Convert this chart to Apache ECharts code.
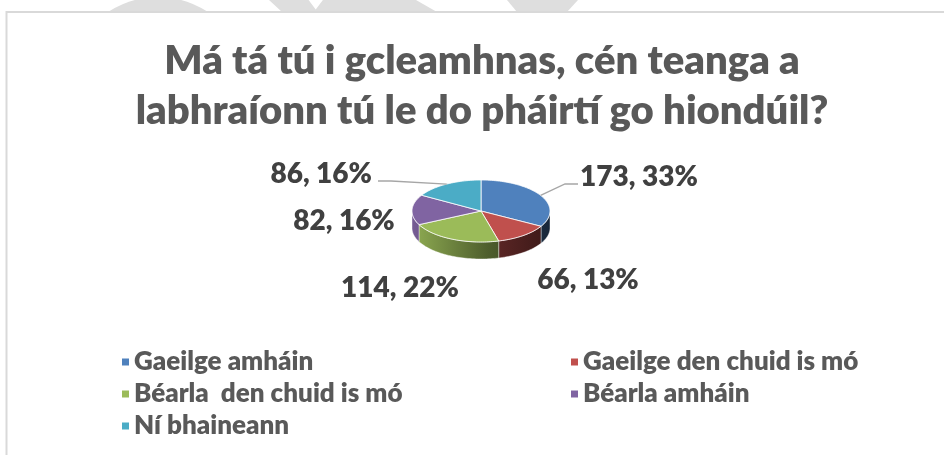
<!DOCTYPE html>
<html>
<head>
<meta charset="utf-8">
<title>Pie 3D</title>
<script src="https://cdn.jsdelivr.net/npm/echarts@6/dist/echarts.min.js"></script>
<style>
html, body { margin: 0; padding: 0; background: #fff; overflow: hidden; }
#main { width: 944px; height: 455px; }
</style>
</head>
<body>
<div id="main"></div>
<script>
// chart data
const titleText = "Má tá tú i gcleamhnas, cén teanga a\nlabhraíonn tú le do pháirtí go hiondúil?"
const categories = ["Gaeilge amháin", "Gaeilge den chuid is mó", "Béarla  den chuid is mó", "Béarla amháin", "Ní bhaineann"]
const values = [173, 66, 114, 82, 86]
const colors = ["#4f81bd", "#c0504d", "#9bbb59", "#8064a2", "#4bacc6"]

// pie layout (px): ellipse of the top face + height of the side wall
const pie = { cx: 481, cy: 211, rx: 69, ry: 31, depth: 17 }
// label anchor relative to pie centre: [dx, dy, align, leader line]
const labelLayout = [
  [99, -34, "left", true],
  [107, 69, "center", false],
  [-81, 77, "center", false],
  [-137, 10, "center", false],
  [-109, -37, "right", true],
]

// percentages that add up to 100 (largest remainder, like the pie series)
function percentList(arr) {
  const sum = arr.reduce((a, b) => a + b, 0)
  const raw = arr.map(v => (v / sum) * 100)
  const out = raw.map(Math.floor)
  const left = 100 - out.reduce((a, b) => a + b, 0)
  const order = raw.map((r, i) => i).sort((a, b) => (raw[b] - out[b]) - (raw[a] - out[a]))
  for (let k = 0; k < left; k++) out[order[k]]++
  return out
}

const total = values.reduce((a, b) => a + b, 0)
const percents = percentList(values)
// start angle of every slice, clockwise from 12 o'clock
const startAngles = []
let acc = 0
values.forEach(v => {
  startAngles.push(acc)
  acc += (v / total) * Math.PI * 2
})

// point on the ellipse, t from top clockwise
function ellipsePoint(t, dy) {
  return [pie.cx + pie.rx * Math.sin(t), pie.cy - pie.ry * Math.cos(t) + dy]
}
function arcPoints(a0, a1, dy) {
  const pts = []
  const n = Math.max(2, Math.ceil((a1 - a0) / 0.03))
  for (let k = 0; k <= n; k++) pts.push(ellipsePoint(a0 + ((a1 - a0) * k) / n, dy))
  return pts
}
// darker colour for the side wall
function shade(hex, f) {
  const n = parseInt(hex.slice(1), 16)
  const r = Math.round(((n >> 16) & 255) * f)
  const g = Math.round(((n >> 8) & 255) * f)
  const b = Math.round((n & 255) * f)
  return "rgb(" + r + "," + g + "," + b + ")"
}
function sideGradient(c) {
  return {
    type: "linear",
    x: pie.cx - pie.rx, y: 0, x2: pie.cx + pie.rx, y2: 0,
    global: true,
    colorStops: [
      { offset: 0, color: shade(c, 0.92) },
      { offset: 0.55, color: shade(c, 0.5) },
      { offset: 1, color: shade(c, 0.3) },
    ],
  }
}

// draw one slice: side wall, top face, label, leader line
function renderSlice(params, api) {
  const i = params.dataIndex
  const value = api.value(0)
  const a0 = startAngles[i]
  const a1 = a0 + (value / total) * Math.PI * 2
  const children = []

  // side wall only on the front half
  const s0 = Math.max(a0, Math.PI / 2)
  const s1 = Math.min(a1, Math.PI * 1.5)
  if (s1 > s0) {
    const top = arcPoints(s0, s1, 0)
    const bottom = arcPoints(s0, s1, pie.depth).reverse()
    children.push({
      type: "polygon",
      shape: { points: top.concat(bottom) },
      style: { fill: sideGradient(colors[i]), stroke: "rgba(255,255,255,0.5)", lineWidth: 0.8 },
    })
  }

  // top face
  children.push({
    type: "polygon",
    shape: { points: [[pie.cx, pie.cy]].concat(arcPoints(a0, a1, 0)) },
    style: { fill: colors[i], stroke: "#fff", lineWidth: 0.8 },
  })

  // label
  const lay = labelLayout[i]
  const lx = pie.cx + lay[0]
  const ly = pie.cy + lay[1]
  children.push({
    type: "text",
    x: lx,
    y: ly,
    style: {
      text: value + ", " + percents[i] + "%",
      fill: "#404040",
      font: "800 28px Lato",
      align: lay[2],
      verticalAlign: "middle",
    },
  })

  // leader line from slice edge to label
  if (lay[3]) {
    const p = ellipsePoint((a0 + a1) / 2, 0)
    const dir = lay[2] === "left" ? -1 : 1
    const end = [lx + dir * (lay[2] === "left" ? 2 : 6), ly + 7]
    const elbow = [end[0] + dir * 13, end[1]]
    children.push({
      type: "polyline",
      shape: { points: [p, elbow, end] },
      style: { stroke: "#a6a6a6", lineWidth: 1.3, fill: null },
    })
  }

  return { type: "group", children }
}

const pieData = values.map((v, i) => ({ value: v, name: categories[i] }))
const legendText = { fontFamily: "Lato", fontWeight: 800, fontSize: 26, color: "#595959", lineHeight: 26 }

const myChart = echarts.init(document.getElementById("main"))
const option = {
  animation: false,
  color: colors,
  graphic: [
    // faint watermark above the frame
    { type: "circle", shape: { cx: 158, cy: 88, r: 91 }, style: { fill: "#dedede" } },
    {
      type: "polygon",
      shape: { points: [[269, 0], [308.6, 0], [315.7, 9.6], [322.9, 0], [416, 0], [437, 12], [282, 12]] },
      style: { fill: "#dedede" },
    },
    { type: "polygon", shape: { points: [[507, 0], [578, 0], [567, 12], [517, 12]] }, style: { fill: "#dedede" } },
    // chart frame
    { type: "rect", shape: { x: 6.5, y: 12, width: 1000, height: 500 }, style: { fill: "#fff", stroke: "#d9d9d9", lineWidth: 2 } },
    // title
    {
      type: "text",
      x: 482,
      y: 36,
      style: { text: titleText, fill: "#595959", font: "800 40px Lato", lineHeight: 50, align: "center", verticalAlign: "top" },
    },
  ],
  legend: [
    {
      data: [categories[0], categories[2], categories[4]],
      orient: "vertical",
      left: 117,
      top: 344,
      icon: "rect",
      itemWidth: 7,
      itemHeight: 7,
      itemGap: 6,
      selectedMode: false,
      textStyle: legendText,
    },
    {
      data: [categories[1], categories[3]],
      orient: "vertical",
      left: 566,
      top: 344,
      icon: "rect",
      itemWidth: 7,
      itemHeight: 7,
      itemGap: 6,
      selectedMode: false,
      textStyle: legendText,
    },
  ],
  series: [
    // hidden pie, only feeds the legend
    {
      type: "pie",
      center: [-100, -100],
      radius: 1,
      silent: true,
      label: { show: false },
      labelLine: { show: false },
      data: pieData,
    },
    // 3D looking pie
    {
      type: "custom",
      coordinateSystem: "none",
      silent: true,
      renderItem: renderSlice,
      data: pieData,
    },
  ],
}
myChart.setOption(option)
</script>
</body>
</html>
